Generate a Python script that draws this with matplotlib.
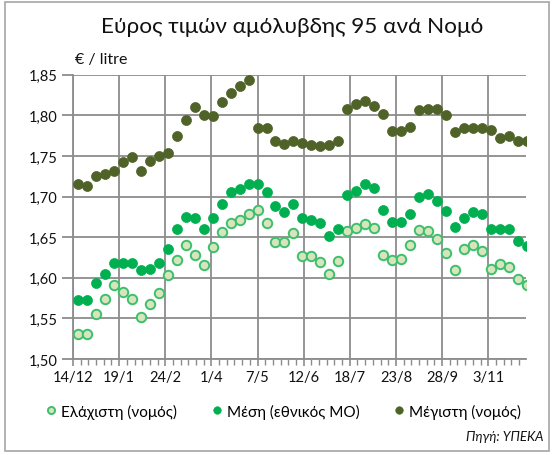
import matplotlib
matplotlib.use('Agg')
import matplotlib.pyplot as plt
import matplotlib.dates as mdates
from matplotlib.patches import Rectangle
from matplotlib.ticker import FuncFormatter, FixedLocator
import pandas as pd

plt.rcParams['font.family'] = ['Lato', 'Open Sans', 'DejaVu Sans']

# weekly observation dates
dates = pd.date_range('2009-12-18', periods=51, freq='7D')

min_vals = [1.531, 1.531, 1.556, 1.574, 1.591, 1.583, 1.574, 1.552, 1.568, 1.581,
            1.603, 1.622, 1.640, 1.628, 1.616, 1.638, 1.656, 1.668, 1.671, 1.679,
            1.683, 1.668, 1.644, 1.644, 1.655, 1.627, 1.627, 1.619, 1.605, 1.621,
            1.658, 1.661, 1.666, 1.661, 1.628, 1.622, 1.623, 1.640, 1.659, 1.658,
            1.648, 1.630, 1.609, 1.635, 1.640, 1.633, 1.611, 1.617, 1.613, 1.598,
            1.591]
mean_vals = [1.573, 1.573, 1.593, 1.605, 1.618, 1.618, 1.618, 1.609, 1.611, 1.618,
             1.636, 1.660, 1.675, 1.673, 1.660, 1.673, 1.691, 1.705, 1.709, 1.716,
             1.716, 1.705, 1.688, 1.681, 1.691, 1.674, 1.671, 1.667, 1.652, 1.660,
             1.702, 1.707, 1.715, 1.710, 1.683, 1.669, 1.669, 1.678, 1.699, 1.703,
             1.694, 1.682, 1.662, 1.674, 1.681, 1.678, 1.660, 1.660, 1.660, 1.645,
             1.639]
max_vals = [1.715, 1.713, 1.725, 1.728, 1.732, 1.742, 1.749, 1.732, 1.744, 1.750,
            1.753, 1.775, 1.794, 1.810, 1.801, 1.799, 1.817, 1.828, 1.836, 1.843,
            1.784, 1.784, 1.768, 1.765, 1.768, 1.766, 1.764, 1.762, 1.764, 1.768,
            1.808, 1.814, 1.818, 1.812, 1.802, 1.781, 1.781, 1.786, 1.806, 1.808,
            1.808, 1.800, 1.780, 1.784, 1.784, 1.784, 1.782, 1.772, 1.775, 1.768,
            1.768]

series_labels = ['Ελάχιστη (νομός)', 'Μέση (εθνικός ΜΟ)', 'Μέγιστη (νομός)']
title = 'Εύρος τιμών αμόλυβδης 95 ανά Νομό'
unit_label = '€ / litre'
source = 'Πηγή: ΥΠΕΚΑ'

W, H = 553, 456
fig = plt.figure(figsize=(W / 100, H / 100), dpi=100)
fig.patch.set_facecolor('white')

# chart border
fig.add_artist(Rectangle((5 / W, 1 - 452 / H), (549 - 5) / W, (452 - 3) / H,
                         transform=fig.transFigure, fill=False,
                         edgecolor='#a6a6a6', lw=1.2))

left, right, top, bottom = 73, 526, 75.7, 360
ax = fig.add_axes([left / W, 1 - bottom / H, (right - left) / W, (bottom - top) / H])

grid_c = '#8c8c8c'
txt_c = '#111111'
l_min, = ax.plot(dates, min_vals, 'o', ls='none', ms=6.8, mfc='#d7e4bd',
                 mec='#3cc06c', mew=1.4, label=series_labels[0], zorder=3)
l_mean, = ax.plot(dates, mean_vals, 'o', ls='none', ms=7.2, mfc='#00b050',
                  mec='#00b050', mew=0.5, label=series_labels[1], zorder=4)
l_max, = ax.plot(dates, max_vals, 'o', ls='none', ms=7.2, mfc='#4f6228',
                 mec='#4f6228', mew=0.5, label=series_labels[2], zorder=5)

start = pd.Timestamp('2009-12-14')
ax.set_xlim(start, start + pd.Timedelta(days=353.5))
ax.set_ylim(1.50, 1.85)

major = pd.date_range(start, periods=10, freq='36D')
minor = pd.date_range(start, periods=59, freq='6D')
ax.xaxis.set_major_locator(FixedLocator(mdates.date2num(major)))
ax.xaxis.set_minor_locator(FixedLocator(mdates.date2num(minor)))
ax.xaxis.set_major_formatter(FuncFormatter(
    lambda v, p: f"{mdates.num2date(v).day}/{mdates.num2date(v).month}"))
ax.set_yticks([1.50, 1.55, 1.60, 1.65, 1.70, 1.75, 1.80, 1.85])
ax.yaxis.set_major_formatter(FuncFormatter(lambda v, p: f"{v:.2f}".replace('.', ',')))

ax.grid(True, which='major', color=grid_c, lw=1.3, zorder=1)
ax.set_axisbelow(True)
for s in ['top', 'right']:
    ax.spines[s].set_visible(False)
for s in ['left', 'bottom']:
    ax.spines[s].set_color(grid_c)
    ax.spines[s].set_linewidth(1.3)

ax.tick_params(axis='y', which='major', length=8, width=1.3, color=grid_c,
               labelsize=10.5, pad=3, labelcolor=txt_c)
ax.tick_params(axis='x', which='major', length=5, width=1.2, color=grid_c,
               labelsize=10.5, pad=3, labelcolor=txt_c)
ax.tick_params(axis='x', which='minor', length=4, width=1.0, color=grid_c)

fig.text(292 / W, 1 - 27 / H, title, ha='center', va='center', fontsize=16.2,
         color=txt_c)
fig.text(75 / W, 1 - 60 / H, unit_label, ha='left', va='center', fontsize=11.5,
         color=txt_c)

fig.legend(handles=[l_min, l_mean, l_max], loc='center',
           bbox_to_anchor=(284 / W, 1 - 412 / H), ncol=3, frameon=False,
           markerscale=0.75, handlelength=0.6, handletextpad=0.35,
           columnspacing=2.3, fontsize=11)

fig.text(543 / W, 1 - 437 / H, source, ha='right', va='center', fontsize=9.5,
         style='italic', color=txt_c)

fig.savefig('out.png', dpi=100, facecolor='white')
